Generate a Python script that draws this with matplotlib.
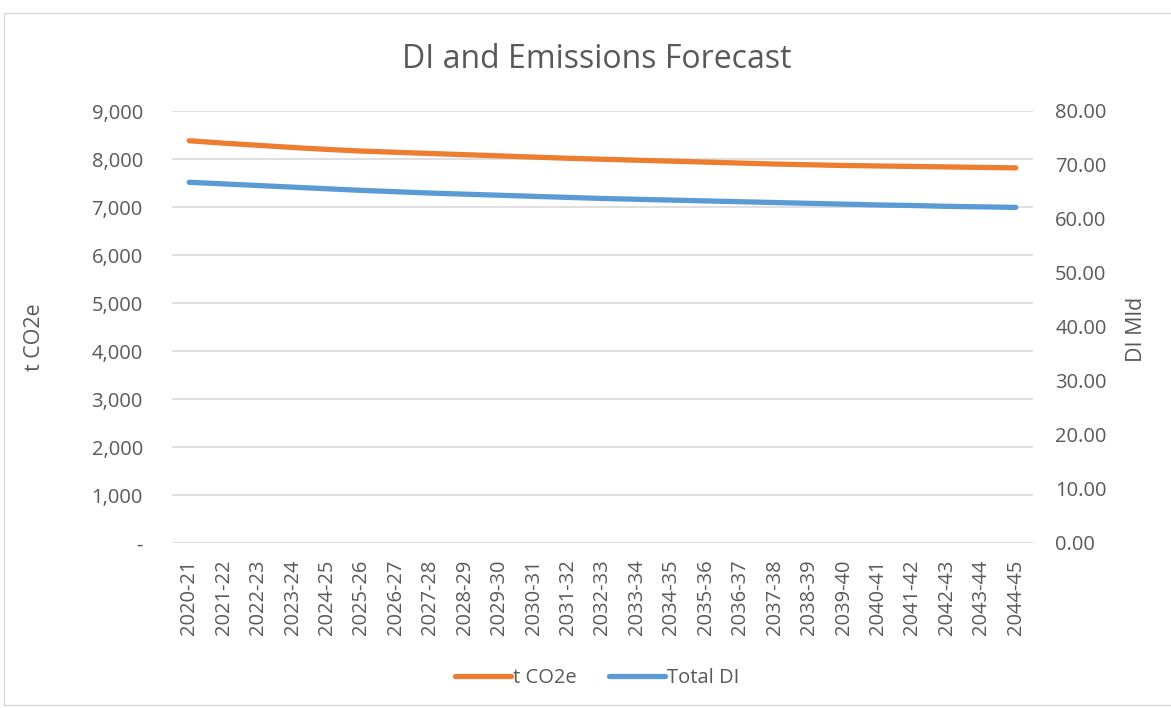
import matplotlib
matplotlib.use("Agg")
import matplotlib.pyplot as plt
from matplotlib.ticker import FuncFormatter, MultipleLocator
from matplotlib.lines import Line2D
from matplotlib.patches import Rectangle

years = ["2020-21", "2021-22", "2022-23", "2023-24", "2024-25", "2025-26", "2026-27",
         "2027-28", "2028-29", "2029-30", "2030-31", "2031-32", "2032-33", "2033-34",
         "2034-35", "2035-36", "2036-37", "2037-38", "2038-39", "2039-40", "2040-41",
         "2041-42", "2042-43", "2043-44", "2044-45"]
t_co2e = [8380, 8330, 8285, 8240, 8200, 8165, 8140, 8115, 8090, 8065, 8040, 8015, 7995,
          7975, 7955, 7935, 7915, 7895, 7880, 7865, 7855, 7845, 7835, 7825, 7815]
total_di = [66.8, 66.5, 66.2, 65.9, 65.6, 65.3, 65.05, 64.8, 64.6, 64.4, 64.2, 64.0, 63.8,
            63.65, 63.5, 63.35, 63.2, 63.05, 62.9, 62.75, 62.6, 62.5, 62.35, 62.25, 62.15]

font = "Open Sans"
txt = "#595959"
orange = "#ED7D31"
blue = "#5B9BD5"

plt.rcParams['font.family'] = [font, 'DejaVu Sans']
fig = plt.figure(figsize=(11.71, 7.08), dpi=100)
fig.patches.append(Rectangle((4/1171, 3/708), 1.2, (705-13)/708, transform=fig.transFigure,
                             fill=False, edgecolor="#d9d9d9", lw=1))

ax = fig.add_axes([172/1171, (708-543)/708, (1033-172)/1171, (543-111)/708])
ax2 = ax.twinx()
x = list(range(len(years)))
ax.plot(x, t_co2e, color=orange, lw=3.8, solid_capstyle="round", zorder=3)
ax2.plot(x, total_di, color=blue, lw=3.8, solid_capstyle="round", zorder=3)

ax.set_xlim(-0.5, len(years) - 0.5)
ax.set_ylim(0, 9000)
ax2.set_ylim(0, 80)
ax.yaxis.set_major_locator(MultipleLocator(1000))
ax2.yaxis.set_major_locator(MultipleLocator(10))
ax.yaxis.set_major_formatter(FuncFormatter(lambda v, p: "-" if v == 0 else f"{v:,.0f}"))
ax2.yaxis.set_major_formatter(FuncFormatter(lambda v, p: f"{v:.2f}"))
ax.set_xticks(x)
ax.set_xticklabels(years, rotation=90)
ax.grid(axis="y", color="#d9d9d9", lw=1.2)
ax.set_axisbelow(True)
for a in (ax, ax2):
    for s in a.spines.values():
        s.set_visible(False)
    a.tick_params(length=0, labelsize=14.5, colors=txt)
ax.tick_params(axis="x", pad=12)
ax.tick_params(axis="y", pad=21)
ax2.tick_params(axis="y", pad=16)
fig.text(35/1171, 1 - 337/708, "t CO2e", rotation=90, ha="center", va="center",
         fontsize=15.5, color=txt)
fig.text(1137/1171, 1 - 329/708, "DI Mld", rotation=90, ha="center", va="center",
         fontsize=15.5, color=txt)
fig.text(597/1171, 1 - 59/708, "DI and Emissions Forecast", ha="center", va="center",
         fontsize=23, color=txt)

handles = [Line2D([], [], color=orange, lw=3.8, solid_capstyle="round"),
           Line2D([], [], color=blue, lw=3.8, solid_capstyle="round")]
fig.legend(handles, ["t CO2e", "Total DI"], loc="center", bbox_to_anchor=(597/1171, 1 - 678/708),
           ncol=2, frameon=False, fontsize=14.5, labelcolor=txt, handlelength=2.8,
           handletextpad=0.1, columnspacing=1.6)
fig.savefig("out.png", dpi=100)
